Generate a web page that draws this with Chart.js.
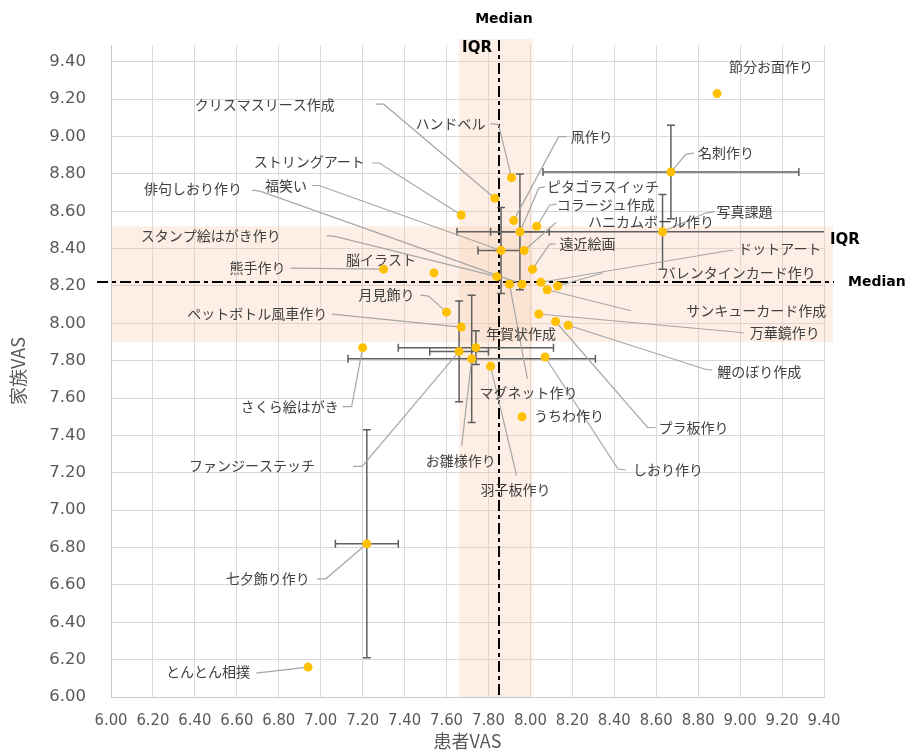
<!DOCTYPE html>
<html lang="ja">
<head>
<meta charset="utf-8">
<title>患者VAS・家族VAS</title>
<script src="https://cdn.jsdelivr.net/npm/chart.js@4.4.1/dist/chart.umd.min.js"></script>
<style>
  html, body { margin: 0; padding: 0; background: #ffffff; }
  #wrap { width: 906px; height: 752px; }
</style>
</head>
<body>
<div id="wrap"><canvas id="chart" width="906" height="752"></canvas></div>
<script>
// Activities and their mean VAS scores (patient on x, family on y)
const activities = [
  '節分お面作り', '名刺作り', '写真課題', 'クリスマスリース作成', 'ハンドベル',
  '凧作り', 'ピタゴラスイッチ', 'コラージュ作成', 'ハニカムボール作り', '福笑い',
  '遠近絵画', 'ストリングアート', '熊手作り', '脳イラスト', 'スタンプ絵はがき作り',
  '俳句しおり作り', 'マグネット作り', 'ドットアート', 'バレンタインカード作り', 'サンキューカード作成',
  '万華鏡作り', '鯉のぼり作成', 'プラ板作り', 'しおり作り', '月見飾り',
  'ペットボトル風車作り', '年賀状作成', 'ファンジーステッチ', 'お雛様作り', 'さくら絵はがき',
  '羽子板作り', 'うちわ作り', '七夕飾り作り', 'とんとん相撲'
];
const patientVAS = [
  8.89, 8.67, 8.63, 7.83, 7.91,
  7.92, 7.95, 8.03, 7.97, 7.86,
  8.01, 7.67, 7.30, 7.54, 7.84,
  7.96, 7.90, 8.05, 8.13, 8.08,
  8.04, 8.18, 8.12, 8.07, 7.60,
  7.67, 7.74, 7.66, 7.72, 7.20,
  7.81, 7.96, 7.22, 6.94
];
const familyVAS = [
  9.23, 8.81, 8.49, 8.67, 8.78,
  8.55, 8.49, 8.52, 8.39, 8.39,
  8.29, 8.58, 8.29, 8.27, 8.25,
  8.21, 8.21, 8.22, 8.20, 8.18,
  8.05, 7.99, 8.01, 7.82, 8.06,
  7.98, 7.87, 7.85, 7.81, 7.87,
  7.77, 7.50, 6.82, 6.16
];
// Error bar half-widths (null where no bar is shown)
const patientErr = [
  null, 0.61, 0.98, null, null,
  null, 0.14, null, null, 0.11,
  null, null, null, null, null,
  null, null, null, null, null,
  null, null, null, null, null,
  null, 0.37, 0.14, 0.59, null,
  null, null, 0.15, null
];
const familyErr = [
  null, 0.25, 0.20, null, null,
  null, 0.31, null, null, 0.23,
  null, null, null, null, null,
  null, null, null, null, null,
  null, null, null, null, null,
  null, 0.09, 0.27, 0.34, null,
  null, null, 0.61, null
];

const xTickValues = [6.0, 6.2, 6.4, 6.6, 6.8, 7.0, 7.2, 7.4, 7.6, 7.8, 8.0, 8.2, 8.4, 8.6, 8.8, 9.0, 9.2, 9.4];
const yTickValues = [6.0, 6.2, 6.4, 6.6, 6.8, 7.0, 7.2, 7.4, 7.6, 7.8, 8.0, 8.2, 8.4, 8.6, 8.8, 9.0, 9.2, 9.4];

// Reference lines: medians and interquartile ranges
const medianPatient = 7.85;
const medianFamily = 8.22;
const iqrPatient = [7.66, 8.01];
const iqrFamily = [7.90, 8.52];

// Label placement for each activity, in pixels relative to its point:
// at = label centre, from = leader start next to the label, via = optional elbow
const labelLayout = [
  { at: [54, -27] },
  { at: [55, -19], from: [23, -19], via: [15, -18] },
  { at: [82, -20], from: [52, -20], via: [44, -19] },
  { at: [-230, -94], from: [-119, -94], via: [-111, -94] },
  { at: [-61, -54], from: [-21, -54], via: [-13, -53] },
  { at: [78, -84], from: [53, -84], via: [45, -84] },
  { at: [83, -45], from: [25, -45], via: [19, -44] },
  { at: [69, -22], from: [20, -22], via: [13, -21] },
  { at: [127, -29], from: [32, -28] },
  { at: [-215, -65], from: [-189, -65], via: [-182, -65] },
  { at: [55, -25], from: [23, -25], via: [17, -25] },
  { at: [-152, -53], from: [-89, -52], via: [-82, -52] },
  { at: [-126, -1], from: [-93, -1] },
  { at: [-53, -13] },
  { at: [-286, -41], from: [-170, -41], via: [-161, -40] },
  { at: [-329, -95], from: [-270, -94], via: [-262, -93] },
  { at: [19, 109], from: [18, 95] },
  { at: [239, -34], from: [192, -32], via: [184, -31] },
  { at: [181, -13], from: [45, -13] },
  { at: [209, 21], from: [84, 21] },
  { at: [246, 19], from: [205, 19], via: [197, 18] },
  { at: [191, 46], from: [144, 45], via: [137, 44] },
  { at: [138, 106], from: [100, 106], via: [92, 106] },
  { at: [123, 113], from: [81, 113], via: [73, 112] },
  { at: [-60, -17], from: [-26, -17], via: [-18, -16] },
  { at: [-204, -13], from: [-129, -13] },
  { at: [45, -14] },
  { at: [-207, 114], from: [-106, 115], via: [-97, 115] },
  { at: [-11, 102], from: [-10, 87] },
  { at: [-73, 59], from: [-20, 59], via: [-11, 59] },
  { at: [25, 123], from: [26, 109] },
  { at: [47, -1] },
  { at: [-99, 35], from: [-50, 35], via: [-41, 35] },
  { at: [-100, 5], from: [-52, 6] }
];

const TEXT_GREY = '#595959';
const LABEL_COLOR = '#404040';
const BAND_FILL = 'rgba(247, 203, 172, 0.3)';
const DASH = [11, 4, 4, 4];

const overlay = {
  id: 'overlay',
  beforeDatasetsDraw(chart) {
    const { ctx, chartArea: a, scales: { x, y } } = chart;
    ctx.save();

    // IQR bands
    ctx.fillStyle = BAND_FILL;
    const bx0 = x.getPixelForValue(iqrPatient[0]);
    const bx1 = x.getPixelForValue(iqrPatient[1]);
    ctx.fillRect(bx0, a.top - 6, bx1 - bx0, a.bottom - a.top + 6);
    const by0 = y.getPixelForValue(iqrFamily[1]);
    const by1 = y.getPixelForValue(iqrFamily[0]);
    ctx.fillRect(a.left, by0, a.right + 9 - a.left, by1 - by0);

    // Median lines
    const mx = Math.round(x.getPixelForValue(medianPatient));
    const my = Math.round(y.getPixelForValue(medianFamily));
    ctx.strokeStyle = '#000000';
    ctx.lineWidth = 2;
    ctx.setLineDash(DASH);
    ctx.beginPath();
    ctx.moveTo(mx, a.top - 5);
    ctx.lineTo(mx, a.bottom);
    ctx.stroke();
    ctx.beginPath();
    ctx.moveTo(a.left - 14, my);
    ctx.lineTo(a.right + 10, my);
    ctx.stroke();
    ctx.setLineDash([]);

    // Error bars, clipped to the plot area
    ctx.save();
    ctx.beginPath();
    ctx.rect(a.left, a.top, a.right - a.left, a.bottom - a.top);
    ctx.clip();
    ctx.strokeStyle = '#5f5f5f';
    ctx.lineWidth = 1.5;
    const cap = 4;
    activities.forEach((name, i) => {
      const px = x.getPixelForValue(patientVAS[i]);
      const py = y.getPixelForValue(familyVAS[i]);
      if (patientErr[i] != null) {
        const l = x.getPixelForValue(patientVAS[i] - patientErr[i]);
        const r = x.getPixelForValue(patientVAS[i] + patientErr[i]);
        ctx.beginPath();
        ctx.moveTo(l, py); ctx.lineTo(r, py);
        ctx.moveTo(l, py - cap); ctx.lineTo(l, py + cap);
        ctx.moveTo(r, py - cap); ctx.lineTo(r, py + cap);
        ctx.stroke();
      }
      if (familyErr[i] != null) {
        const t = y.getPixelForValue(familyVAS[i] + familyErr[i]);
        const b = y.getPixelForValue(familyVAS[i] - familyErr[i]);
        ctx.beginPath();
        ctx.moveTo(px, t); ctx.lineTo(px, b);
        ctx.moveTo(px - cap, t); ctx.lineTo(px + cap, t);
        ctx.moveTo(px - cap, b); ctx.lineTo(px + cap, b);
        ctx.stroke();
      }
    });
    ctx.restore();

    // Leader lines from labels to points
    ctx.strokeStyle = '#a6a6a6';
    ctx.lineWidth = 1.2;
    activities.forEach((name, i) => {
      const lay = labelLayout[i];
      if (!lay.from) return;
      const px = x.getPixelForValue(patientVAS[i]);
      const py = y.getPixelForValue(familyVAS[i]);
      ctx.beginPath();
      ctx.moveTo(px + lay.from[0], py + lay.from[1]);
      if (lay.via) ctx.lineTo(px + lay.via[0], py + lay.via[1]);
      ctx.lineTo(px, py);
      ctx.stroke();
    });
    ctx.restore();
  },
  afterDatasetsDraw(chart) {
    const { ctx, chartArea: a, scales: { x, y } } = chart;
    ctx.save();

    // Activity labels
    ctx.fillStyle = LABEL_COLOR;
    ctx.font = '14px "Noto Sans CJK JP", sans-serif';
    ctx.textAlign = 'center';
    ctx.textBaseline = 'middle';
    activities.forEach((name, i) => {
      const lay = labelLayout[i];
      const px = x.getPixelForValue(patientVAS[i]);
      const py = y.getPixelForValue(familyVAS[i]);
      ctx.fillText(name, px + lay.at[0], py + lay.at[1]);
    });

    // Median / IQR captions
    const mx = x.getPixelForValue(medianPatient);
    const my = y.getPixelForValue(medianFamily);
    const bx0 = x.getPixelForValue(iqrPatient[0]);
    const by0 = y.getPixelForValue(iqrFamily[1]);
    ctx.fillStyle = '#000000';
    ctx.font = 'bold 14px "DejaVu Sans", sans-serif';
    ctx.textAlign = 'center';
    ctx.fillText('Median', mx + 5, 19);
    ctx.textAlign = 'left';
    ctx.fillText('Median', a.right + 24, my);
    ctx.font = 'bold 15px "DejaVu Sans", sans-serif';
    ctx.fillText('IQR', bx0 + 3, a.top + 3);
    ctx.fillText('IQR', a.right + 6, by0 + 14);
    ctx.restore();
  }
};

new Chart(document.getElementById('chart'), {
  type: 'scatter',
  data: {
    datasets: [{
      label: '家族VAS',
      data: activities.map((name, i) => ({ x: patientVAS[i], y: familyVAS[i] })),
      pointRadius: 4.5,
      pointHoverRadius: 4.5,
      pointBackgroundColor: '#FFC000',
      pointBorderWidth: 0,
      borderWidth: 0
    }]
  },
  options: {
    responsive: false,
    animation: false,
    devicePixelRatio: 1,
    events: [],
    layout: { padding: { left: 0, right: 82, top: 45, bottom: 0 } },
    plugins: {
      legend: { display: false },
      tooltip: { enabled: false }
    },
    scales: {
      x: {
        type: 'linear',
        min: 6,
        max: 9.4,
        afterBuildTicks: s => { s.ticks = xTickValues.map(v => ({ value: v })); },
        afterFit: s => { s.height = 55; },
        ticks: {
          callback: v => Number(v).toFixed(2),
          padding: 14,
          color: TEXT_GREY,
          autoSkip: false,
          maxRotation: 0,
          font: { family: '"DejaVu Sans Condensed", "DejaVu Sans", sans-serif', size: 16.5 }
        },
        grid: { color: '#d9d9d9', drawTicks: false },
        border: { color: '#c8c8c8' },
        title: {
          display: true,
          text: '患者VAS',
          color: TEXT_GREY,
          font: { family: '"Noto Sans CJK JP", sans-serif', size: 18 },
          padding: { top: 0, bottom: 0 }
        }
      },
      y: {
        type: 'linear',
        min: 6,
        max: 9.49,
        afterBuildTicks: s => { s.ticks = yTickValues.map(v => ({ value: v })); },
        afterFit: s => { s.width = 111; },
        ticks: {
          callback: v => Number(v).toFixed(2),
          padding: 25,
          color: TEXT_GREY,
          autoSkip: false,
          font: { family: '"DejaVu Sans", sans-serif', size: 16.5 }
        },
        grid: { color: '#d9d9d9', drawTicks: false },
        border: { color: '#c8c8c8' },
        title: {
          display: true,
          text: '家族VAS',
          color: TEXT_GREY,
          font: { family: '"Noto Sans CJK JP", sans-serif', size: 18 },
          padding: { top: 7, bottom: 0 }
        }
      }
    }
  },
  plugins: [overlay]
});
</script>
</body>
</html>
